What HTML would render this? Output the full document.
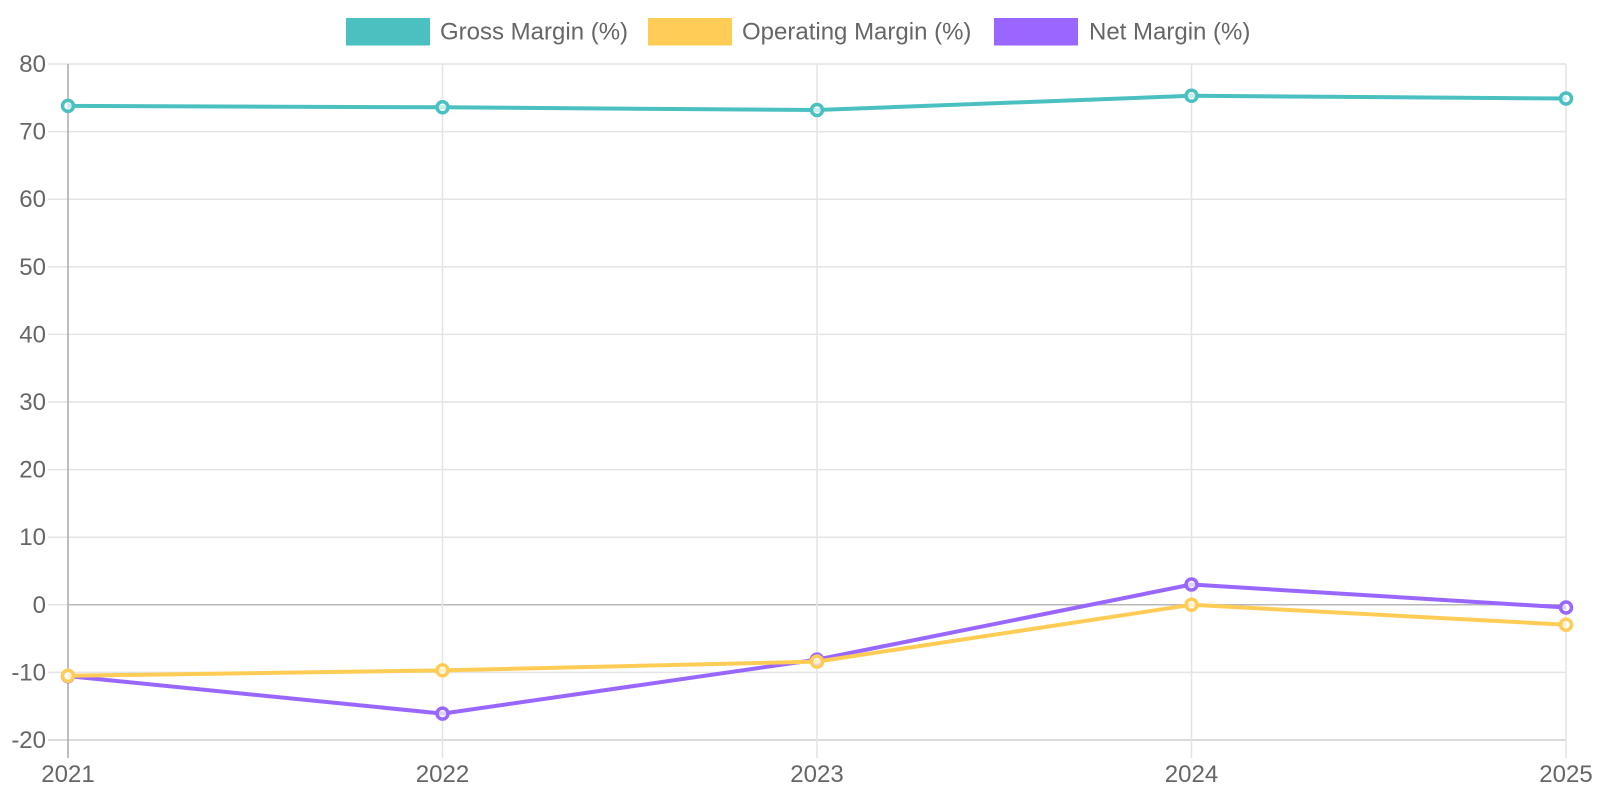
<!DOCTYPE html>
<html>
<head>
<meta charset="utf-8">
<style>
html,body{margin:0;padding:0;background:#fff;}
svg{display:block;}
text{font-family:"Liberation Sans",Arial,sans-serif;fill:#666;font-size:24px;}
</style>
</head>
<body>
<svg width="1600" height="800" viewBox="0 0 1600 800" xmlns="http://www.w3.org/2000/svg">
  <!-- legend -->
  <rect x="346" y="18" width="84" height="27.5" fill="#4BC0C0"/>
  <text x="440" y="39.5">Gross Margin (%)</text>
  <rect x="648" y="18" width="84" height="27.5" fill="#FFCD56"/>
  <text x="742" y="39.5">Operating Margin (%)</text>
  <rect x="994" y="18" width="84" height="27.5" fill="#9966FF"/>
  <text x="1089" y="39.5">Net Margin (%)</text>

  <!-- horizontal grid -->
  <g stroke="#e4e4e4" stroke-width="1.5">
    <line x1="48" y1="64" x2="1566" y2="64"/>
    <line x1="48" y1="131.6" x2="1566" y2="131.6"/>
    <line x1="48" y1="199.2" x2="1566" y2="199.2"/>
    <line x1="48" y1="266.8" x2="1566" y2="266.8"/>
    <line x1="48" y1="334.4" x2="1566" y2="334.4"/>
    <line x1="48" y1="402" x2="1566" y2="402"/>
    <line x1="48" y1="469.6" x2="1566" y2="469.6"/>
    <line x1="48" y1="537.2" x2="1566" y2="537.2"/>
    <line x1="48" y1="672.4" x2="1566" y2="672.4"/>
  </g>
  <line x1="48" y1="740" x2="1566" y2="740" stroke="#cfcfcf" stroke-width="1.5"/>
  <line x1="48" y1="604.8" x2="1566" y2="604.8" stroke="#b8b8b8" stroke-width="1.5"/>
  <line x1="48" y1="604.8" x2="68" y2="604.8" stroke="#e4e4e4" stroke-width="1.5"/>

  <!-- vertical grid -->
  <g stroke="#e4e4e4" stroke-width="1.5">
    <line x1="442.5" y1="64" x2="442.5" y2="758"/>
    <line x1="817" y1="64" x2="817" y2="758"/>
    <line x1="1191.5" y1="64" x2="1191.5" y2="758"/>
    <line x1="1566" y1="64" x2="1566" y2="758"/>
  </g>
  <line x1="68" y1="64" x2="68" y2="758" stroke="#aaaaaa" stroke-width="1.5"/>

  <!-- y labels -->
  <g text-anchor="end">
    <text x="46" y="72">80</text>
    <text x="46" y="139.6">70</text>
    <text x="46" y="207.2">60</text>
    <text x="46" y="274.8">50</text>
    <text x="46" y="342.4">40</text>
    <text x="46" y="410">30</text>
    <text x="46" y="477.6">20</text>
    <text x="46" y="545.2">10</text>
    <text x="46" y="612.8">0</text>
    <text x="46" y="680.4">-10</text>
    <text x="46" y="748">-20</text>
  </g>
  <!-- x labels -->
  <g text-anchor="middle">
    <text x="68" y="782">2021</text>
    <text x="442.5" y="782">2022</text>
    <text x="817" y="782">2023</text>
    <text x="1191.5" y="782">2024</text>
    <text x="1566" y="782">2025</text>
  </g>

  <!-- Net margin -->
  <polyline points="68,676.1 442.5,713.6 817,659.6 1191.5,584.5 1566,607.5" stroke="#9966FF" stroke-width="4" fill="none" stroke-linejoin="round"/>
  <g stroke="#9966FF" stroke-width="3.5" fill="rgba(255,255,255,0.7)">
    <circle cx="68" cy="676.1" r="5.5"/>
    <circle cx="442.5" cy="713.6" r="5.5"/>
    <circle cx="817" cy="659.6" r="5.5"/>
    <circle cx="1191.5" cy="584.5" r="5.5"/>
    <circle cx="1566" cy="607.5" r="5.5"/>
  </g>

  <!-- Operating margin -->
  <polyline points="68,675.8 442.5,670.4 817,661.6 1191.5,604.8 1566,624.7" stroke="#FFCD56" stroke-width="4" fill="none" stroke-linejoin="round"/>
  <g stroke="#FFCD56" stroke-width="3.5" fill="rgba(255,255,255,0.7)">
    <circle cx="68" cy="675.8" r="5.5"/>
    <circle cx="442.5" cy="670.4" r="5.5"/>
    <circle cx="817" cy="661.6" r="5.5"/>
    <circle cx="1191.5" cy="604.8" r="5.5"/>
    <circle cx="1566" cy="624.7" r="5.5"/>
  </g>

  <!-- Gross margin -->
  <polyline points="68,105.9 442.5,107.3 817,110 1191.5,95.8 1566,98.5" stroke="#4BC0C0" stroke-width="4" fill="none" stroke-linejoin="round"/>
  <g stroke="#4BC0C0" stroke-width="3.5" fill="rgba(255,255,255,0.7)">
    <circle cx="68" cy="105.9" r="5.5"/>
    <circle cx="442.5" cy="107.3" r="5.5"/>
    <circle cx="817" cy="110" r="5.5"/>
    <circle cx="1191.5" cy="95.8" r="5.5"/>
    <circle cx="1566" cy="98.5" r="5.5"/>
  </g>
</svg>
</body>
</html>
